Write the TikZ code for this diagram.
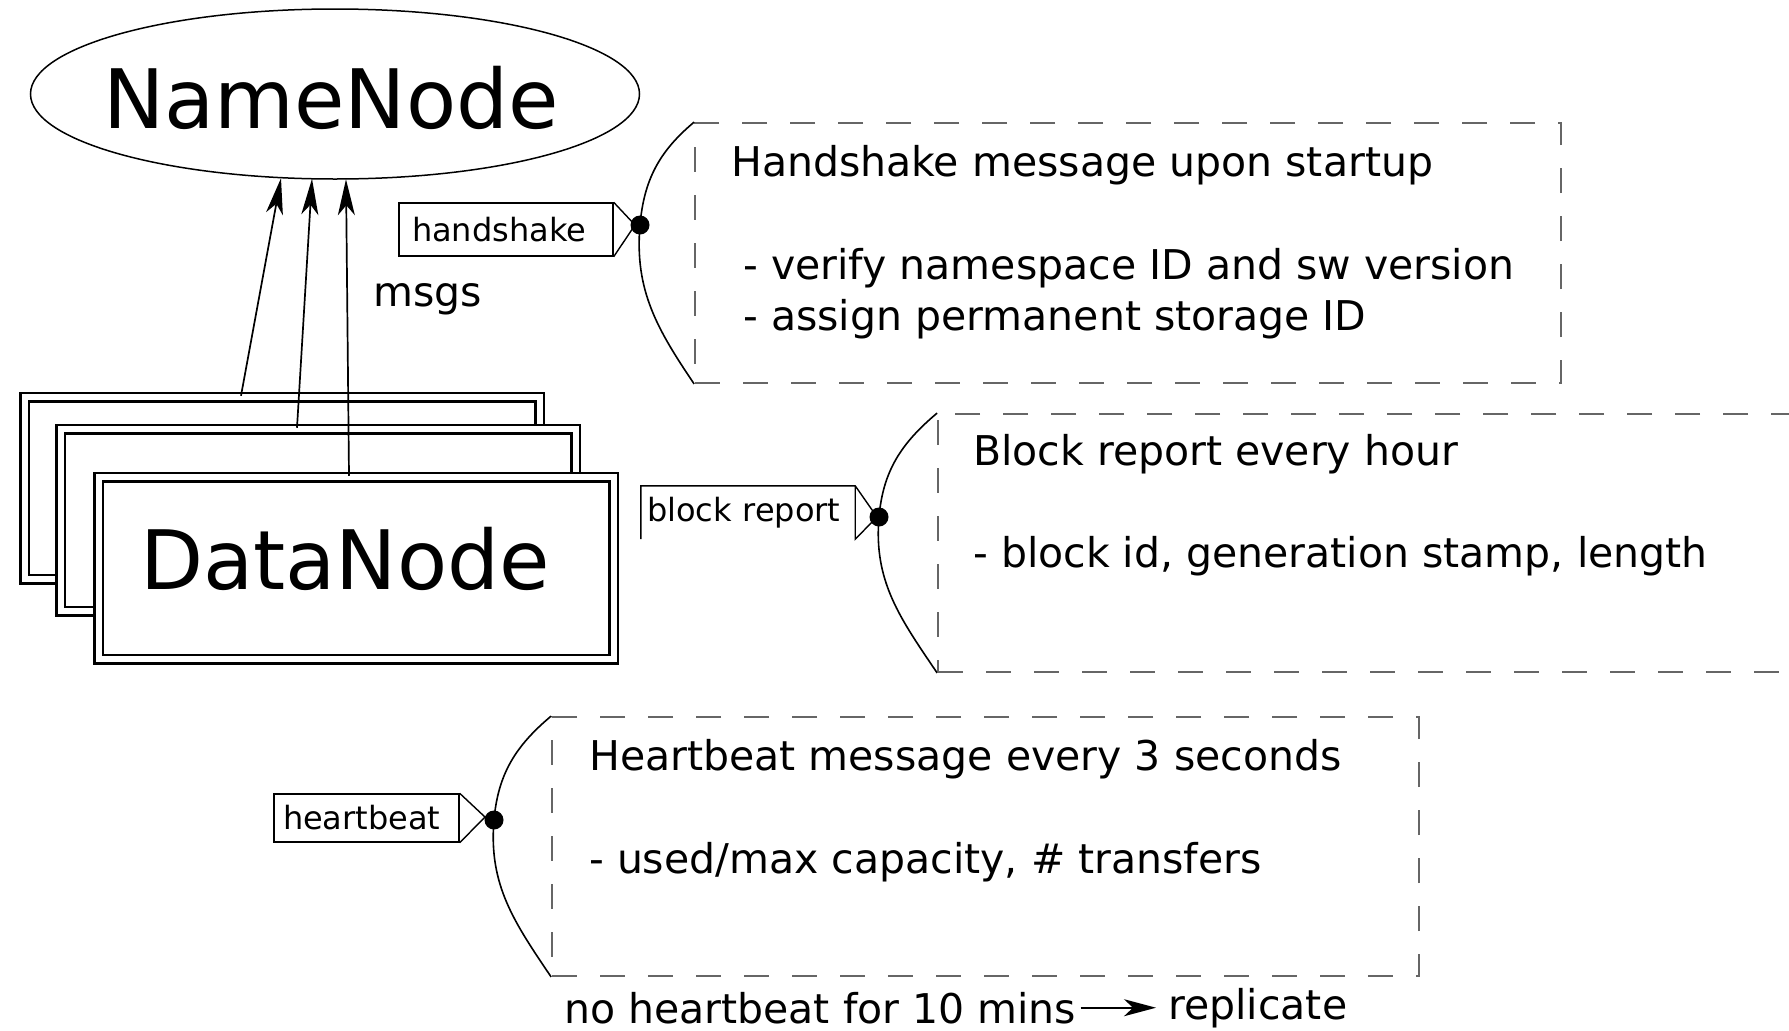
\documentclass[tikz,border=0pt]{standalone}
\usepackage{fontspec}
\setmainfont{DejaVu Sans}
\usetikzlibrary{shapes.geometric,arrows.meta}
\begin{document}
\begin{tikzpicture}[x=1pt,y=-1pt,
  body/.style={font=\fontsize{41}{49}\selectfont, inner sep=0pt, anchor=base west},
  tagbox/.style={font=\fontsize{32}{38}\selectfont, inner ysep=0pt, minimum height=53pt, align=left},
  note/.style={draw=black!60, line width=1.8pt, dash pattern=on 25pt off 23pt, inner sep=0pt},
  curv/.style={line width=1.6pt},
  dnbox/.style={draw, fill=white, double, double distance=6pt, line width=2.5pt, minimum width=515pt, minimum height=182pt, inner sep=0pt},
  msg/.style={-{Stealth[length=36pt,width=17pt,inset=10pt]}, line width=1.7pt},
  dotn/.style={circle, fill, inner sep=0pt, minimum size=19pt},
  tri/.style={line width=1.4pt, line join=miter}
]
\useasboundingbox (0,0) rectangle (1789,1031);
\fill[white] (0,0) rectangle (1789,1031);

% NameNode
\node[draw, ellipse, line width=1.5pt, minimum width=609pt, minimum height=170pt, inner sep=0pt] (nn) at (335,94) {};
\node[font=\fontsize{82}{90}\selectfont, inner sep=0pt] (nntext) at (331,98) {NameNode};

% DataNode stack
\node[dnbox] (dn1) at (282,488) {};
\node[dnbox] (dn2) at (318,520) {};
\node[dnbox] (dn3) at (356,568) {};
\node[font=\fontsize{82}{90}\selectfont, inner sep=0pt] (dntext) at (345,559) {DataNode};

% message arrows
\draw[msg] ([xshift=-41pt]dn1.north) -- ([xshift=-54pt,yshift=1.5pt]nn.south);
\draw[msg] ([xshift=-21pt]dn2.north) -- ([xshift=-23pt,yshift=1pt]nn.south);
\draw[msg] ([xshift=-7pt]dn3.north) -- ([xshift=11pt,yshift=0.5pt]nn.south);
\node[body] (msgs) at (373,306) {msgs};

% handshake
\node[note, minimum width=866pt, minimum height=260pt] (hsbox) at (1128,253) {};
\node[body] (hs1) at (731,176) {Handshake message upon startup};
\node[body] (hs2) at (743,279) {- verify namespace ID and sw version};
\node[body] (hs3) at (743,330) {- assign permanent storage ID};
\node[tagbox, draw, line width=1.4pt, inner xsep=13pt, text width=188pt] (hslbl) at (506,229.5) {handshake};
\coordinate (hstip) at (635,225);
\draw[tri] (hslbl.north east) -- (hstip) -- (hslbl.south east);
\node[dotn] (hsdot) at (640,225) {};
\draw[curv] (hsbox.north west) to[out=220,in=85] (hsdot.center) to[out=-95,in=124] (hsbox.south west);

% block report
\begin{scope}
\clip (0,0) rectangle (1789,1031);
\node[note, minimum width=900pt, minimum height=258pt] (brbox) at (1388,543) {};
\end{scope}
\node[body] (br1) at (973,465) {Block report every hour};
\node[body] (br2) at (973,567) {- block id, generation stamp, length};
\node[tagbox, inner xsep=6pt, text width=202pt] (brlbl) at (748,512.5) {block report};
\coordinate (brtip) at (877,517);
\draw[tri] (brlbl.south west) -- (brlbl.north west) -- (brlbl.north east) -- (brtip) -- (brlbl.south east) -- (brlbl.north east);
\node[dotn] (brdot) at (879,517) {};
\draw[curv] (brbox.north west) to[out=220,in=85] (brdot.center) to[out=-95,in=124] (brbox.south west);

% heartbeat
\node[note, minimum width=867pt, minimum height=259pt] (hbbox) at (985.5,846.5) {};
\node[body] (hb1) at (589,770) {Heartbeat message every 3 seconds};
\node[body] (hb2) at (589,873) {- used/max capacity, \# transfers};
\node[tagbox, draw, line width=1.4pt, inner xsep=9pt, text width=167pt, minimum height=48pt] (hblbl) at (366.5,818) {heartbeat};
\coordinate (hbtip) at (485,817);
\draw[tri] (hblbl.north east) -- (hbtip) -- (hblbl.south east);
\node[dotn] (hbdot) at (494,820) {};
\draw[curv] (hbbox.north west) to[out=220,in=85] (hbdot.center) to[out=-95,in=124] (hbbox.south west);

% bottom line
\node[body] (nohb) at (564,1023) {no heartbeat for 10 mins};
\node[body] (repl) at (1168,1019) {replicate};
\draw[-{Stealth[length=32pt,width=17pt,inset=9pt]}, line width=1.6pt] ([xshift=4pt]nohb.east) -- ([xshift=-12pt]nohb.east -| repl.west);
\end{tikzpicture}
\end{document}
